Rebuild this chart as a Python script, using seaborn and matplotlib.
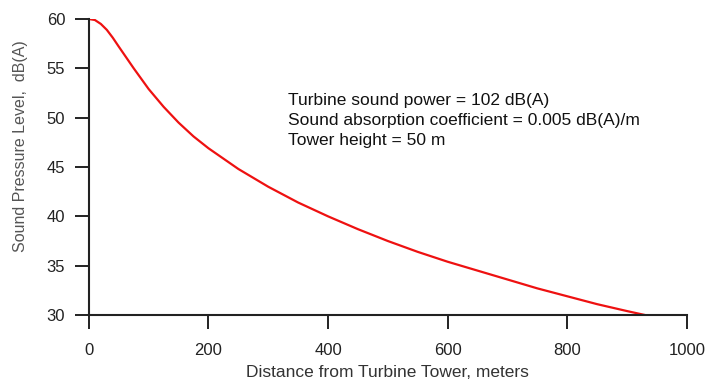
import numpy as np
import pandas as pd
import matplotlib
matplotlib.use("Agg")
import matplotlib.pyplot as plt
import seaborn as sns

# values
distance = [0, 10, 20, 30, 40, 50, 75, 100, 125, 150, 175, 200, 250, 300,
            350, 400, 450, 500, 550, 600, 650, 700, 750, 800, 850, 900, 930]
spl = [60.0, 59.9, 59.5, 58.9, 58.1, 57.2, 55.0, 52.9, 51.1, 49.5, 48.1, 46.9,
       44.8, 43.0, 41.4, 40.0, 38.7, 37.5, 36.4, 35.4, 34.5, 33.6, 32.7, 31.9,
       31.1, 30.4, 30.0]

x_ticks = [0, 200, 400, 600, 800, 1000]
y_ticks = [30, 35, 40, 45, 50, 55, 60]
notes = ["Turbine sound power = 102 dB(A)",
         "Sound absorption coefficient = 0.005 dB(A)/m",
         "Tower height = 50 m"]

df = pd.DataFrame({"distance": distance, "spl": spl})

sns.set_theme(style="ticks")
plt.rcParams["font.family"] = ["Liberation Sans", "DejaVu Sans"]

fig = plt.figure(figsize=(7.11, 3.80), dpi=100)
ax = fig.add_axes([0.125, 0.171, 0.841, 0.779])

sns.lineplot(data=df, x="distance", y="spl", color="#ee1111", linewidth=1.6,
             ax=ax)

ax.set_xlim(0, 1000)
ax.set_ylim(30, 60)
ax.set_xticks(x_ticks)
ax.set_yticks(y_ticks)
ax.tick_params(axis="both", labelsize=12, length=10, width=1.4, color="#222222",
               labelcolor="#222222", direction="out", pad=7)
ax.tick_params(axis="x", pad=10)
for s in ["top", "right"]:
    ax.spines[s].set_visible(False)
for s in ["left", "bottom"]:
    ax.spines[s].set_linewidth(1.5)
    ax.spines[s].set_color("#222222")

ax.set_xlabel("Distance from Turbine Tower, meters", fontsize=12.5,
              color="#333333", labelpad=5)
ax.set_ylabel("Sound Pressure Level,  dB(A)", fontsize=11.5, color="#555555")
ax.yaxis.set_label_coords(-0.102, 0.57)

ax.text(333, 52.5, "\n".join(notes), fontsize=12.5, color="#111111",
        va="top", ha="left", linespacing=1.42)

fig.savefig("out.png", dpi=100)
